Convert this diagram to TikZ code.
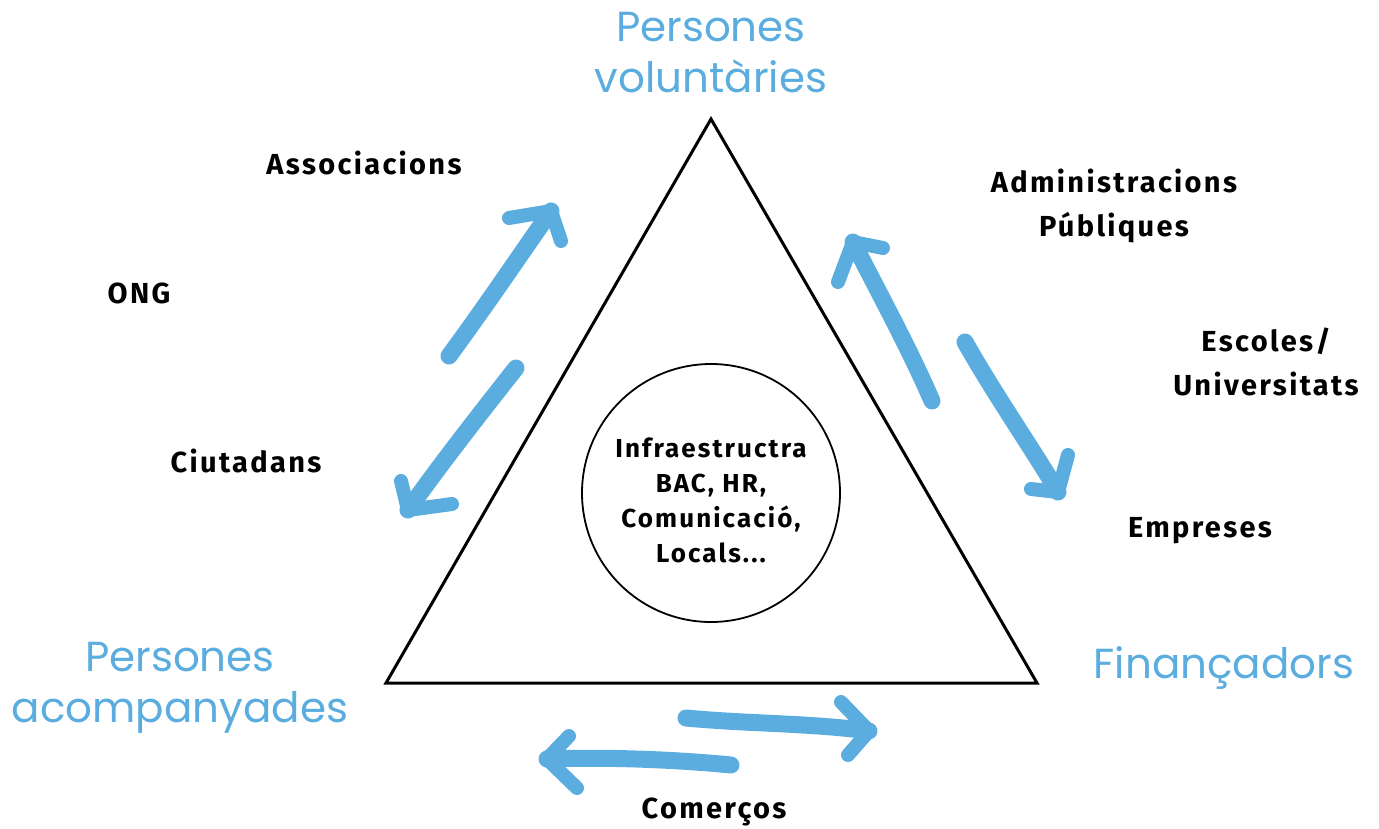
\documentclass[tikz,border=0pt]{standalone}
\usepackage{fontspec}
\setmainfont{Poppins}
\newfontfamily\hand[LetterSpace=8]{Fira Sans}
\definecolor{pblue}{RGB}{90,173,222}
\begin{document}
\begin{tikzpicture}[x=1pt,y=-1pt,
  bluetitle/.style={text=pblue,font=\fontsize{42}{51}\selectfont,align=center},
  handlabel/.style={font=\hand\bfseries\fontsize{29}{44}\selectfont,align=center},
  shaft/.style={draw=pblue,line width=17pt,line cap=round},
  head/.style={draw=pblue,line width=14pt,line cap=round,line join=round}]
\useasboundingbox (0,0) rectangle (1379,828);
% triangle and circle
\coordinate (A) at (711,119);
\coordinate (B) at (386,683);
\coordinate (C) at (1037,683);
\draw[line width=3pt,line join=miter] (A) -- (B) -- (C) -- cycle;
\node[draw,circle,line width=1.8pt,minimum size=258pt,inner sep=0pt] (core) at (711,493) {};
\node[font=\hand\bfseries\fontsize{26}{35}\selectfont,align=center] (coretext) at (711,500)
  {Infraestructra\\BAC, HR,\\Comunicació,\\Locals...};
% blue titles
\node[bluetitle] (vol) at (711,53) {Persones\\voluntàries};
\node[bluetitle] (acc) at (180,688) {Persones\\acompanyades};
\node[bluetitle] (fin) at (1224,668) {Finançadors};
% black labels
\node[handlabel] (asso) at (364,163) {Associacions};
\node[handlabel] (ong) at (139,293) {ONG};
\node[handlabel] (ciu) at (246,461) {Ciutadans};
\node[handlabel] (adm) at (1114,206) {Administracions\\Públiques};
\node[handlabel] (esc) at (1266,362) {Escoles/\\Universitats};
\node[handlabel] (emp) at (1200,531) {Empreses};
\node[handlabel] (com) at (714,812) {Comerços};
% arrow 1 (up-right, left side)
\coordinate (a1t) at (449,356);
\coordinate (a1h) at (551,211);
\coordinate (a1l) at (509,218);
\coordinate (a1r) at (561,241);
\draw[shaft] (a1t) .. controls (490,300) and (520,255) .. (a1h);
\draw[head] (a1l) -- (a1h) -- (a1r);
% arrow 2 (down-left, left side)
\coordinate (a2t) at (516,368);
\coordinate (a2h) at (408,510);
\coordinate (a2l) at (401,481);
\coordinate (a2r) at (452,504);
\draw[shaft] (a2t) .. controls (475,420) and (440,465) .. (a2h);
\draw[head] (a2l) -- (a2h) -- (a2r);
% arrow 3 (up-left, right side)
\coordinate (a3t) at (932,401);
\coordinate (a3h) at (853,242);
\coordinate (a3l) at (838,282);
\coordinate (a3r) at (883,248);
\draw[shaft] (a3t) .. controls (910,350) and (880,295) .. (a3h);
\draw[head] (a3l) -- (a3h) -- (a3r);
% arrow 4 (down-right, right side)
\coordinate (a4t) at (965,342);
\coordinate (a4h) at (1058,492);
\coordinate (a4l) at (1068,455);
\coordinate (a4r) at (1031,489);
\draw[shaft] (a4t) .. controls (995,395) and (1030,445) .. (a4h);
\draw[head] (a4l) -- (a4h) -- (a4r);
% arrow 5 (right, bottom)
\coordinate (a5t) at (686,718);
\coordinate (a5h) at (869,731);
\coordinate (a5l) at (841,702);
\coordinate (a5r) at (848,755);
\draw[shaft] (a5t) .. controls (750,724) and (810,723) .. (a5h);
\draw[head] (a5l) -- (a5h) -- (a5r);
% arrow 6 (left, bottom)
\coordinate (a6t) at (731,765);
\coordinate (a6h) at (547,759);
\coordinate (a6l) at (569,736);
\coordinate (a6r) at (577,788);
\draw[shaft] (a6t) .. controls (670,759) and (600,757) .. (a6h);
\draw[head] (a6l) -- (a6h) -- (a6r);
\end{tikzpicture}
\end{document}
